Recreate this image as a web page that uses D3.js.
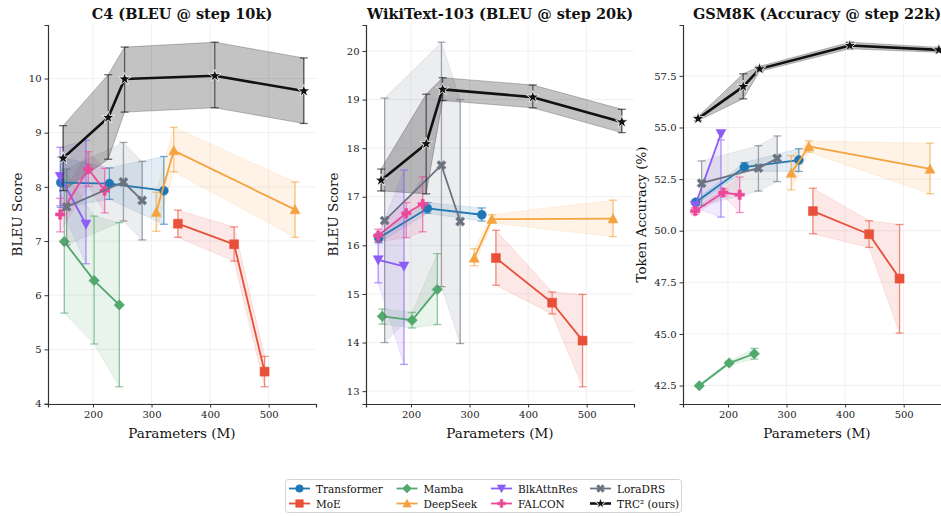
<!DOCTYPE html>
<html>
<head>
<meta charset="utf-8">
<script src="https://cdn.jsdelivr.net/npm/d3@7"></script>
<style>
  body { margin: 0; background: #fff; }
  svg { display: block; font-family: "DejaVu Serif", serif; }
</style>
</head>
<body>
<svg id="chart" width="941" height="516"></svg>
<script>
// ---- models ----
const modelNames   = ["Transformer", "MoE", "Mamba", "DeepSeek", "BlkAttnRes", "FALCON", "LoraDRS", "TRC\u00B2 (ours)"];
const modelColors  = ["#1f77b4", "#e8503a", "#52a86e", "#f4a340", "#8b5cf6", "#ec4899", "#6b7280", "#111111"];
const modelMarkers = ["circle", "square", "diamond", "triangleUp", "triangleDown", "plus", "x", "star"];

// parameter counts (M) per model
const paramsTransformer = [145, 228, 321];
const paramsMoE         = [345, 441, 493];
const paramsMamba       = [151, 202, 245];
const paramsDeepSeek    = [308, 338, 545];
const paramsBlkAttnRes  = [144, 188];
const paramsFALCON      = [144, 192, 220];
const paramsLoraDRS     = [155, 252, 284];
const paramsTRC         = [149, 226, 254, 408, 560];

// ---- C4 BLEU @ 10k: rows are [score, lower, upper] ----
const c4Transformer = [[8.08, 7.62, 8.55], [8.06, 7.77, 8.35], [7.93, 7.31, 8.56]];
const c4MoE         = [[7.32, 7.07, 7.57], [6.94, 6.63, 7.26], [4.59, 4.31, 4.87]];
const c4Mamba       = [[6.99, 5.67, 8.31], [6.27, 5.10, 7.46], [5.82, 4.31, 7.34]];
const c4DeepSeek    = [[7.53, 7.18, 7.90], [8.67, 8.28, 9.10], [7.58, 7.07, 8.09]];
const c4BlkAttnRes  = [[8.19, 7.65, 8.73], [7.31, 6.58, 8.86]];
const c4FALCON      = [[7.49, 7.17, 7.79], [8.33, 8.01, 8.65], [7.93, 7.52, 8.34]];
const c4LoraDRS     = [[7.63, 6.93, 8.33], [8.09, 7.37, 8.82], [7.75, 7.02, 8.47]];
const c4TRC         = [[8.53, 7.93, 9.13], [9.28, 8.51, 10.07], [9.99, 9.38, 10.58], [10.05, 9.46, 10.67], [9.77, 9.17, 10.38]];

// ---- WikiText-103 BLEU @ 20k ----
const wtTransformer = [[16.15, 16.05, 16.25], [16.76, 16.66, 16.88], [16.63, 16.50, 16.77]];
const wtMoE         = [[15.74, 15.18, 16.31], [14.82, 14.59, 15.04], [14.04, 13.09, 14.99]];
const wtMamba       = [[14.54, 14.38, 14.69], [14.46, 14.30, 14.62], [15.09, 14.37, 15.83]];
const wtDeepSeek    = [[15.74, 15.58, 15.93], [16.54, 16.46, 16.63], [16.55, 16.18, 16.93]];
const wtBlkAttnRes  = [[15.70, 15.23, 16.18], [15.57, 13.55, 17.55]];
const wtFALCON      = [[16.20, 16.07, 16.33], [16.66, 16.16, 16.88], [16.85, 16.28, 17.41]];
const wtLoraDRS     = [[16.51, 14.00, 19.03], [17.65, 15.15, 20.18], [16.49, 13.98, 19.00]];
const wtTRC         = [[17.34, 17.12, 17.57], [18.09, 17.06, 19.11], [19.21, 18.98, 19.45], [19.05, 18.83, 19.30], [18.54, 18.32, 18.80]];

// ---- GSM8K token accuracy @ 22k ----
const gsmTransformer = [[51.38, 51.25, 51.50], [53.08, 52.88, 53.30], [53.42, 52.87, 53.97]];
const gsmMoE         = [[50.95, 49.85, 52.06], [49.83, 49.19, 50.48], [47.68, 45.04, 50.30]];
const gsmMamba       = [[42.49, 42.44, 42.56], [43.59, 43.50, 43.68], [44.04, 43.78, 44.30]];
const gsmDeepSeek    = [[52.79, 51.98, 53.63], [54.08, 53.81, 54.35], [52.99, 51.79, 54.24]];
const gsmBlkAttnRes  = [[51.22, 51.10, 51.35], [54.70, 50.66, 54.40]];
const gsmFALCON      = [[50.95, 50.80, 51.10], [51.85, 51.68, 52.02], [51.74, 50.88, 52.60]];
const gsmLoraDRS     = [[52.30, 51.22, 53.38], [53.03, 51.92, 54.12], [53.50, 52.38, 54.59]];
const gsmTRC         = [[55.43, 55.33, 55.53], [56.98, 56.39, 57.60], [57.84, 57.72, 57.96], [58.97, 58.81, 59.13], [58.76, 58.64, 58.88]];

// ---- axes text ----
const panelTitles  = ["C4 (BLEU @ step 10k)", "WikiText-103 (BLEU @ step 20k)", "GSM8K (Accuracy @ step 22k)"];
const panelYLabels = ["BLEU Score", "BLEU Score", "Token Accuracy (%)"];
const xLabel       = "Parameters (M)";
const xTickValues  = [200, 300, 400, 500];
const c4YTicks     = [4, 5, 6, 7, 8, 9, 10];
const wtYTicks     = [13, 14, 15, 16, 17, 18, 19, 20];
const gsmYTicks    = [42.5, 45.0, 47.5, 50.0, 52.5, 55.0, 57.5];

const allParams = [paramsTransformer, paramsMoE, paramsMamba, paramsDeepSeek,
                   paramsBlkAttnRes, paramsFALCON, paramsLoraDRS, paramsTRC];
const panels = [
  { series: [c4Transformer, c4MoE, c4Mamba, c4DeepSeek, c4BlkAttnRes, c4FALCON, c4LoraDRS, c4TRC],
    ticks: c4YTicks, fmt: d3.format("d") },
  { series: [wtTransformer, wtMoE, wtMamba, wtDeepSeek, wtBlkAttnRes, wtFALCON, wtLoraDRS, wtTRC],
    ticks: wtYTicks, fmt: d3.format("d") },
  { series: [gsmTransformer, gsmMoE, gsmMamba, gsmDeepSeek, gsmBlkAttnRes, gsmFALCON, gsmLoraDRS, gsmTRC],
    ticks: gsmYTicks, fmt: d3.format(".1f") }
];

// ---- layout ----
const svg = d3.select("#chart");
const panelLeft = [48, 366, 683];
const plotW = 268, plotTop = 25, plotH = 379;

// marker shapes centred on the origin, s = overall extent in px
function markerPath(type, s) {
  const h = s / 2;
  switch (type) {
    case "circle":  return d3.symbol(d3.symbolCircle, Math.PI * h * h)();
    case "square":  return `M${-h},${-h}H${h}V${h}H${-h}Z`;
    case "diamond": return `M0,${-h}L${h},0L0,${h}L${-h},0Z`;
    case "triangleUp":   return `M0,${-h}L${h},${h * 0.85}L${-h},${h * 0.85}Z`;
    case "triangleDown": return `M0,${h}L${h},${-h * 0.85}L${-h},${-h * 0.85}Z`;
    case "plus": {
      const t = s / 6;
      return `M${-t},${-h}H${t}V${-t}H${h}V${t}H${t}V${h}H${-t}V${t}H${-h}V${-t}H${-t}Z`;
    }
    case "x": {
      const t = s / 6.5, pts = [];
      const base = [[-t, -h], [t, -h], [t, -t], [h, -t], [h, t], [t, t], [t, h], [-t, h], [-t, t], [-h, t], [-h, -t], [-t, -t]];
      const c = Math.SQRT1_2;
      base.forEach(([x, y]) => pts.push([(x - y) * c, (x + y) * c]));
      return "M" + pts.map(p => p.join(",")).join("L") + "Z";
    }
    case "star": {
      const pts = [];
      for (let i = 0; i < 10; i++) {
        const r = i % 2 === 0 ? h : h * 0.4;
        const a = -Math.PI / 2 + i * Math.PI / 5;
        pts.push([r * Math.cos(a), r * Math.sin(a)]);
      }
      return "M" + pts.map(p => p.join(",")).join("L") + "Z";
    }
  }
}
const markerSize = { circle: 9, square: 9, diamond: 10.5, triangleUp: 10, triangleDown: 10, plus: 9.5, x: 10, star: 13 };

// shared x extent with 5% padding
const allX = allParams.flat();
const xMin = d3.min(allX), xMax = d3.max(allX), xPad = (xMax - xMin) * 0.05;

panels.forEach((panel, pi) => {
  const left = panelLeft[pi];
  const g = svg.append("g").attr("transform", `translate(${left},${plotTop})`);

  const lows = panel.series.flatMap(s => s.map(r => r[1]));
  const highs = panel.series.flatMap(s => s.map(r => r[2]));
  const yLo = d3.min(lows), yHi = d3.max(highs), yPad = (yHi - yLo) * 0.05;

  const x = d3.scaleLinear().domain([xMin - xPad, xMax + xPad]).range([0, plotW]);
  const y = d3.scaleLinear().domain([yLo - yPad, yHi + yPad]).range([plotH, 0]);

  // grid
  const grid = g.append("g");
  grid.selectAll("line.gx").data(xTickValues).join("line")
    .attr("x1", d => x(d)).attr("x2", d => x(d)).attr("y1", 0).attr("y2", plotH)
    .attr("stroke", "#ececec").attr("stroke-width", 0.8);
  grid.selectAll("line.gy").data(panel.ticks).join("line")
    .attr("y1", d => y(d)).attr("y2", d => y(d)).attr("x1", 0).attr("x2", plotW)
    .attr("stroke", "#ececec").attr("stroke-width", 0.8);

  const clipId = "clip" + pi;
  g.append("clipPath").attr("id", clipId)
    .append("rect").attr("x", 0).attr("y", 0).attr("width", plotW).attr("height", plotH);
  const plot = g.append("g").attr("clip-path", `url(#${clipId})`);

  // bands
  const area = d3.area().x(d => x(d.p)).y0(d => y(d.lo)).y1(d => y(d.hi));
  panel.series.forEach((rows, si) => {
    const pts = rows.map((r, i) => ({ p: allParams[si][i], v: r[0], lo: r[1], hi: r[2] }));
    const isOurs = si === 7;
    plot.append("path").datum(pts).attr("d", area)
      .attr("fill", modelColors[si]).attr("fill-opacity", isOurs ? 0.25 : 0.13)
      .attr("stroke", modelColors[si]).attr("stroke-opacity", isOurs ? 0.25 : 0.13)
      .attr("stroke-width", 1);
  });

  // error bars, lines, markers
  const line = d3.line().x(d => x(d.p)).y(d => y(d.v));
  panel.series.forEach((rows, si) => {
    const pts = rows.map((r, i) => ({ p: allParams[si][i], v: r[0], lo: r[1], hi: r[2] }));
    const col = modelColors[si];
    const isOurs = si === 7;
    const eb = plot.append("g").attr("stroke", col)
      .attr("stroke-opacity", isOurs ? 0.6 : 0.6).attr("stroke-width", 1.3);
    pts.forEach(d => {
      eb.append("line").attr("x1", x(d.p)).attr("x2", x(d.p)).attr("y1", y(d.lo)).attr("y2", y(d.hi));
      [d.lo, d.hi].forEach(v => {
        eb.append("line").attr("x1", x(d.p) - 4).attr("x2", x(d.p) + 4).attr("y1", y(v)).attr("y2", y(v));
      });
    });
    plot.append("path").datum(pts).attr("d", line)
      .attr("fill", "none").attr("stroke", col)
      .attr("stroke-width", isOurs ? 2.6 : 1.8).attr("stroke-linejoin", "round");
    const mk = modelMarkers[si];
    plot.selectAll(null).data(pts).join("path")
      .attr("d", markerPath(mk, markerSize[mk]))
      .attr("transform", d => `translate(${x(d.p)},${y(d.v)})`)
      .attr("fill", col)
      .attr("stroke", isOurs ? "#ffffff" : col)
      .attr("stroke-width", isOurs ? 0.8 : 0.5);
  });

  // axes
  const xAxis = g.append("g").attr("transform", `translate(0,${plotH})`)
    .call(d3.axisBottom(x).tickValues(xTickValues).tickSize(3.5).tickPadding(3).tickFormat(d3.format("d")));
  const yAxis = g.append("g")
    .call(d3.axisLeft(y).tickValues(panel.ticks).tickSize(3.5).tickPadding(3).tickFormat(panel.fmt));
  [xAxis, yAxis].forEach(a => {
    a.select(".domain").attr("stroke", "#333").attr("stroke-width", 1.2);
    a.selectAll(".tick line").attr("stroke", "#333").attr("stroke-width", 1);
    a.selectAll(".tick text").attr("fill", "#222").style("font-size", "10px")
      .style("font-family", "'DejaVu Serif', serif");
  });

  // titles and labels
  g.append("text").attr("x", plotW / 2).attr("y", -12)
    .attr("text-anchor", "middle").attr("dominant-baseline", "central")
    .style("font-size", "14.5px").style("font-weight", "bold").attr("fill", "#111")
    .text(panelTitles[pi]);
  g.append("text").attr("x", plotW / 2).attr("y", plotH + 29)
    .attr("text-anchor", "middle").attr("dominant-baseline", "central")
    .style("font-size", "13.5px").attr("fill", "#111")
    .text(xLabel);
  const ylx = [17, 333, 641][pi] - left;
  g.append("text").attr("transform", `translate(${ylx},${plotH / 2}) rotate(-90)`)
    .attr("text-anchor", "middle").attr("dominant-baseline", "central")
    .style("font-size", "13.5px").attr("fill", "#111")
    .text(panelYLabels[pi]);
});

// ---- legend ----
const legend = svg.append("g");
legend.append("rect").attr("x", 285.5).attr("y", 479.5).attr("width", 396).attr("height", 33)
  .attr("rx", 3).attr("fill", "#fff").attr("stroke", "#d4d4d4").attr("stroke-width", 1);
const legendColX = [289, 396.5, 491, 590];
const legendRowY = [488.5, 503.5];
modelNames.forEach((name, i) => {
  const cx = legendColX[Math.floor(i / 2)], cy = legendRowY[i % 2];
  const isOurs = i === 7;
  const item = legend.append("g");
  item.append("line").attr("x1", cx).attr("x2", cx + 21).attr("y1", cy).attr("y2", cy)
    .attr("stroke", modelColors[i]).attr("stroke-width", isOurs ? 2.6 : 1.8);
  const mk = modelMarkers[i];
  item.append("path").attr("d", markerPath(mk, markerSize[mk] * 0.85))
    .attr("transform", `translate(${cx + 10.5},${cy})`)
    .attr("fill", modelColors[i]).attr("stroke", isOurs ? "#fff" : modelColors[i])
    .attr("stroke-width", isOurs ? 0.8 : 0.5);
  item.append("text").attr("x", cx + 27).attr("y", cy).attr("dominant-baseline", "central")
    .style("font-size", "10.5px").attr("fill", "#111").text(name);
});
</script>
</body>
</html>
